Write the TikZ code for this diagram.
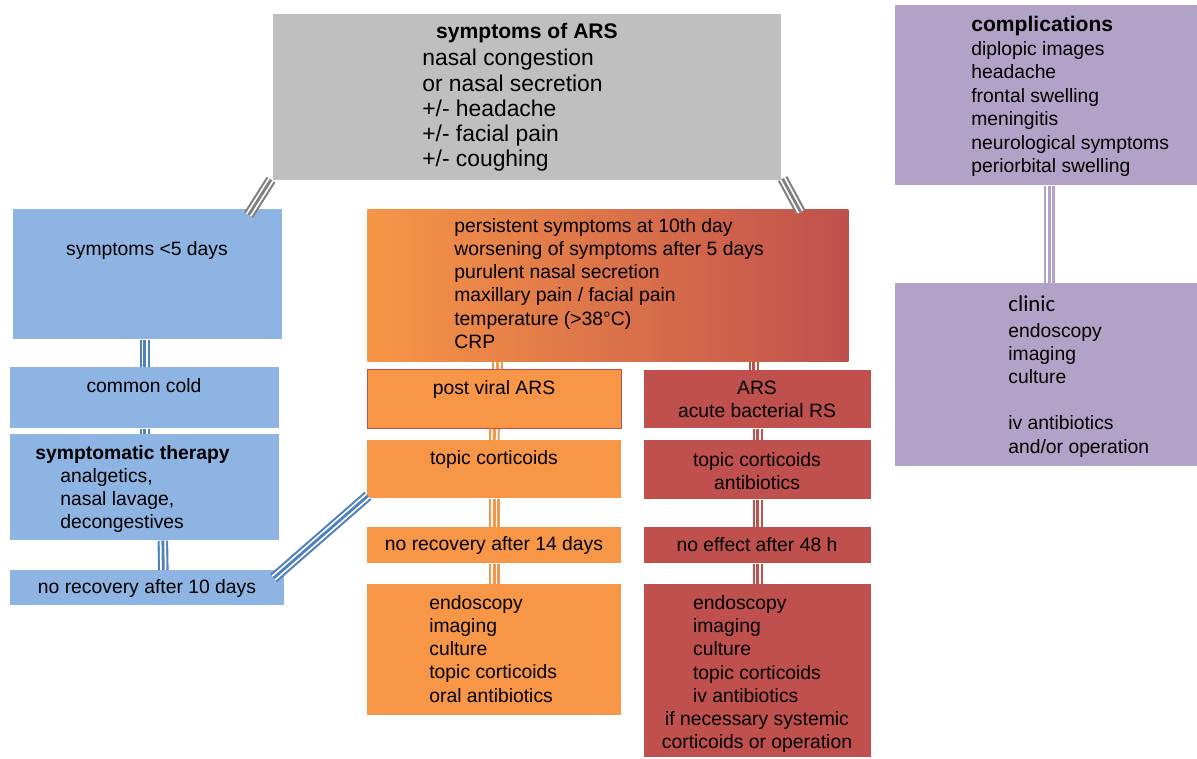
\documentclass[tikz,border=0pt]{standalone}
\usepackage{fontspec}
\setmainfont{Liberation Sans}
\newfontfamily\clinicfont{Carlito}
\usetikzlibrary{calc,positioning}
\definecolor{grayBox}{HTML}{BFBFBF}
\definecolor{grayLine}{HTML}{7F7F7F}
\definecolor{blueBox}{HTML}{8EB4E3}
\definecolor{blueLine}{HTML}{4F81BD}
\definecolor{orangeBox}{HTML}{F79646}
\definecolor{redBox}{HTML}{C0504D}
\definecolor{purpleBox}{HTML}{B3A2C7}
\tikzset{
  box/.style={rectangle, inner sep=0pt, anchor=north west},
  txt/.style={inner sep=0pt, align=left, font=\fontsize{11}{13.2}\selectfont},
  ctxt/.style={inner sep=0pt, align=center, font=\fontsize{11}{13.2}\selectfont},
  tripleline/.style={draw=#1, line width=6pt, postaction={draw=white, line width=3.6pt}, postaction={draw=#1, line width=1.6pt}}
}

\begin{document}
\begin{tikzpicture}[x=0.02cm,y=-0.02cm]
\useasboundingbox (0,0) rectangle (1197,758);
% boxes
\node[box, fill=grayBox, minimum width=10.16cm, minimum height=3.32cm] (ars) at (273,14) {};
\node[box, fill=purpleBox, minimum width=6.04cm, minimum height=3.6cm] (compl) at (895,5) {};
\node[box, fill=purpleBox, minimum width=6.04cm, minimum height=3.66cm] (clinic) at (895,283) {};
\node[box, fill=blueBox, minimum width=5.38cm, minimum height=2.6cm] (short) at (13,209) {};
\node[box, fill=blueBox, minimum width=5.38cm, minimum height=1.22cm] (cold) at (10,367) {};
\node[box, fill=blueBox, minimum width=5.38cm, minimum height=2.12cm] (therapy) at (10,434) {};
\node[box, fill=blueBox, minimum width=5.48cm, minimum height=0.7cm] (norec10) at (10,570) {};
\node[box, left color=orangeBox, right color=redBox, minimum width=9.62cm, minimum height=3.04cm] (persist) at (367,209) {};
\node[box, fill=orangeBox, draw=redBox, line width=0.6pt, minimum width=5.08cm, minimum height=1.18cm] (viral) at (367,369) {};
\node[box, fill=redBox, minimum width=4.54cm, minimum height=1.16cm] (bact) at (644,370) {};
\node[box, fill=orangeBox, minimum width=5.08cm, minimum height=1.16cm] (topicA) at (367,440) {};
\node[box, fill=redBox, minimum width=4.54cm, minimum height=1.18cm] (topicB) at (644,440) {};
\node[box, fill=orangeBox, minimum width=5.08cm, minimum height=0.72cm] (norec14) at (367,527) {};
\node[box, fill=redBox, minimum width=4.54cm, minimum height=0.72cm] (noeff) at (644,527) {};
\node[box, fill=orangeBox, minimum width=5.08cm, minimum height=2.62cm] (finalA) at (367,584) {};
\node[box, fill=redBox, minimum width=4.54cm, minimum height=3.46cm] (finalB) at (644,584) {};

% texts
\node[inner sep=0pt, font=\fontsize{12}{14}\selectfont\bfseries] (arsHead) at (527,33) {symptoms of ARS};
\node[txt, anchor=north west, font=\fontsize{13}{14.3}\selectfont] (arsList) at (422,49) {nasal congestion\\or nasal secretion\\+/- headache\\+/- facial pain\\+/- coughing};
\node[txt, anchor=north west, font=\fontsize{11}{13.4}\selectfont] (complT) at (971,16) {{\fontsize{12}{13.4}\selectfont\bfseries complications}\\diplopic images\\headache\\frontal swelling\\meningitis\\neurological symptoms\\periorbital swelling};
\node[txt, anchor=north west] (clinicT) at (1008,295) {{\clinicfont\fontsize{13}{13.2}\selectfont clinic}\\[1.5pt]endoscopy\\imaging\\culture\\[13.2pt]iv antibiotics\\and/or operation};
\node[ctxt] (shortT) at (147,250) {symptoms <5 days};
\node[ctxt] (coldT) at (144,386) {common cold};
\node[txt, anchor=north west] (therT) at (35,445) {\textbf{symptomatic therapy}\\\hspace*{0.5cm}analgetics,\\\hspace*{0.5cm}nasal lavage,\\\hspace*{0.5cm}decongestives};
\node[ctxt] (norec10T) at (147,588) {no recovery after 10 days};
\node[txt, anchor=north west] (persistT) at (454,218) {persistent symptoms at 10th day\\worsening of symptoms after 5 days\\purulent nasal secretion\\maxillary pain / facial pain\\temperature (>38°C)\\CRP};
\node[ctxt] (viralT) at (494,389) {post viral ARS};
\node[ctxt] (bactT) at (757,399) {ARS\\acute bacterial RS};
\node[ctxt] (topicAT) at (494,459) {topic corticoids};
\node[ctxt] (topicBT) at (757,471) {topic corticoids\\antibiotics};
\node[ctxt] (norec14T) at (494,545) {no recovery after 14 days};
\node[ctxt] (noeffT) at (757,545) {no effect after 48 h};
\node[txt, anchor=north west] (finalAT) at (429,595) {endoscopy\\imaging\\culture\\topic corticoids\\oral antibiotics};
\node[ctxt, anchor=north] (finalBT) at (757,593) {\begin{tabular}[b]{@{}l@{}}endoscopy\\imaging\\culture\\topic corticoids\\iv antibiotics\end{tabular}\\if necessary systemic\\corticoids or operation};

% connectors
\draw[tripleline=grayLine] ($(ars.south west)+(-2,-1)$) -- ($(short.north east)+(-34,6)$);
\draw[tripleline=grayLine] ($(ars.south east)+(1,-2)$) -- ($(persist.north east)+(-48,3)$);
\draw[tripleline=blueLine] (short.south -| cold.north) -- (cold.north);
\draw[tripleline=blueLine] (cold.south) -- (therapy.north);
\draw[tripleline=blueLine] ($(therapy.south)+(18,0)$) -- ($(norec10.north)+(16,0)$);
\draw[tripleline=blueLine] ($(norec10.north east)+(-11,8)$) -- ($(topicA.south west)+(1,-3)$);
\coordinate (vtop) at ($(viral.north)+(3,0)$);
\draw[tripleline=orangeBox] (vtop |- persist.south) -- (vtop);
\coordinate (btop) at ($(bact.north)+(-4,0)$);
\draw[tripleline=redBox] (btop |- persist.south) -- (btop);
\draw[tripleline=orangeBox] (viral.south) -- (topicA.north);
\draw[tripleline=redBox] (bact.south) -- (topicB.north);
\draw[tripleline=orangeBox] (topicA.south) -- (norec14.north);
\draw[tripleline=redBox] (topicB.south) -- (noeff.north);
\draw[tripleline=orangeBox] (norec14.south) -- (finalA.north);
\draw[tripleline=redBox] (noeff.south) -- (finalB.north);
\coordinate (ctop) at ($(compl.south)+(3,0)$);
\draw[tripleline=purpleBox] (ctop) -- (ctop |- clinic.north);
\end{tikzpicture}
\end{document}
